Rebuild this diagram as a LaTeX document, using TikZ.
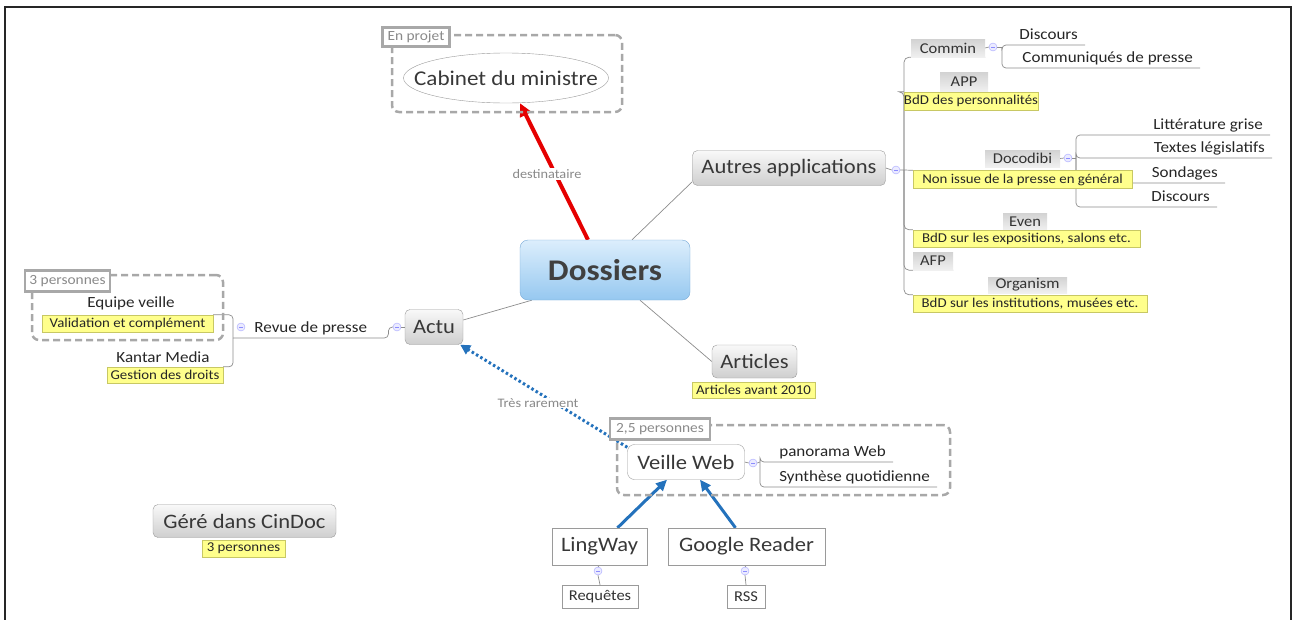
\documentclass[tikz,border=0pt]{standalone}
\usepackage{fontspec}
\setmainfont{Carlito}[FakeStretch=1.1]
\usetikzlibrary{arrows.meta,shapes.geometric}
\pgfdeclarelayer{bg}
\pgfsetlayers{bg,main}
\newcommand\myfs[1]{\fontsize{#1}{#1}\selectfont}
\definecolor{notefill}{HTML}{FFFF8C}
\definecolor{notedraw}{HTML}{C8C864}
\definecolor{linkgray}{HTML}{8C8C8C}
\definecolor{arrowblue}{HTML}{2472BC}
\definecolor{boxline}{HTML}{9A9A9A}
\definecolor{grptext}{HTML}{8A8A8A}
\definecolor{grpline}{HTML}{A8A8A8}
\definecolor{dostop}{HTML}{DCEEFC}
\definecolor{dosbot}{HTML}{96C8F0}
\definecolor{dosline}{HTML}{78AAD7}
\tikzset{
  mainbox/.style={draw=boxline, rounded corners=5pt, top color=gray!5, bottom color=gray!38,
    text=black!78, font=\myfs{20.5}, inner sep=0pt},
  dosbox/.style={draw=dosline, rounded corners=8pt, top color=dostop, bottom color=dosbot,
    text=black!75, font=\myfs{30}\bfseries, inner sep=0pt},
  whitebox/.style={draw=boxline, fill=white, text=black!78, font=\myfs{20.5}, inner sep=0pt},
  smallbox/.style={draw=boxline, fill=white, text=black!80, font=\myfs{15}, inner sep=0pt},
  tag/.style={top color=gray!35, bottom color=gray!12, text=black!80, font=\myfs{15}, inner sep=0pt},
  note/.style={draw=notedraw, fill=notefill, text=black!85, font=\myfs{13.5}, inner sep=0pt},
  leaf/.style={text=black!85, font=\myfs{15.5}, inner xsep=7pt, inner ysep=1.5pt,
    text height=11pt, text depth=3.5pt},
  plain/.style={text=black!85, font=\myfs{15.5}, inner sep=1pt},
  lbl/.style={text=grptext, font=\myfs{13}, fill=white, inner sep=1pt},
  circ/.style={circle, draw=blue!35, fill=blue!8, minimum size=8pt, inner sep=0pt,
    path picture={\draw[blue!45, line width=0.6pt]
      ([xshift=-2pt]path picture bounding box.center) -- ([xshift=2pt]path picture bounding box.center);}},
  grp/.style={draw=grpline, line width=2.5pt, dash pattern=on 7pt off 4pt, rounded corners=7pt,
    inner sep=0pt},
  grplabel/.style={draw=grpline, line width=2.5pt, fill=white, text=grptext, font=\myfs{14}, inner sep=0pt},
  link/.style={draw=linkgray, line width=0.7pt},
  redarrow/.style={draw=red!90!black, line width=4pt, -{Triangle[length=13pt,width=12pt]}},
  bluearrow/.style={draw=arrowblue, line width=3pt, -{Triangle[length=11pt,width=10pt]}},
  bluedot/.style={draw=arrowblue, line width=3pt, dash pattern=on 2.5pt off 2.5pt,
    -{Triangle[length=10pt,width=10pt]}}
}
\begin{document}
\begin{tikzpicture}[x=1pt,y=-1pt]
\useasboundingbox (0,0) rectangle (1294,619);
\draw[line width=2pt, black!85] (5,640) -- (5,7) -- (1291,7) -- (1291,640);

% groups
\node[grp, minimum width=230pt, minimum height=77pt] (g1) at (507,73.5) {};
\node[grp, minimum width=191pt, minimum height=65pt] (g2) at (127.5,307.5) {};
\node[grp, minimum width=333pt, minimum height=70pt] (g3) at (783.5,460) {};
\node[grplabel, minimum width=67pt, minimum height=19pt] (g1l) at (416,37) {En projet};
\node[grplabel, minimum width=85pt, minimum height=21pt] (g2l) at (67.5,281) {3 personnes};
\node[grplabel, minimum width=100pt, minimum height=21pt] (g3l) at (660,429) {2,5 personnes};

% central
\node[dosbox, minimum width=170pt, minimum height=60pt] (dos) at (605,270) {Dossiers};
\node[ellipse, draw=boxline, fill=white, minimum width=205pt, minimum height=50pt, inner sep=0pt,
  text=black!78, font=\myfs{21}] (cab) at (506,78) {\makebox[0pt]{Cabinet du ministre}};
\node[mainbox, minimum width=193pt, minimum height=35pt] (autres) at (789,168) {Autres applications};
\node[mainbox, minimum width=58pt, minimum height=35pt] (actu) at (434,327) {Actu};
\node[mainbox, minimum width=85pt, minimum height=33pt] (articles) at (754.5,361.5) {Articles};
\node[note, minimum width=123pt, minimum height=16pt] (artnote) at (753.5,390) {Articles avant 2010};
\node[mainbox, minimum width=183pt, minimum height=33pt] (cindoc) at (244.5,521) {Géré dans CinDoc};
\node[note, minimum width=83pt, minimum height=17pt] (cinnote) at (243.5,548.5) {3 personnes};

% Autres applications subtree
\node[circ] (ca) at (896,170) {};
\coordinate (bA) at (904,170);
\node[tag, minimum width=74pt, minimum height=18pt] (commin) at (948,48) {Commin};
\node[circ] (cc) at (993,47) {};
\coordinate (bC) at (1002,47);
\node[leaf, anchor=south east] (d1) at (1085,45) {Discours};
\node[leaf, anchor=south east] (cp) at (1200,68) {Communiqués de presse};
\node[tag, minimum width=48pt, minimum height=19pt] (app) at (964,81.5) {APP};
\node[note, minimum width=122pt, minimum height=18pt] (appnote) at (971,101) {BdD des personnalités};
\node[tag, minimum width=75pt, minimum height=17pt] (doco) at (1022.5,158.5) {Docodibi};
\node[circ] (cd) at (1068,158) {};
\coordinate (bD) at (1076,158);
\node[note, minimum width=219pt, minimum height=18pt] (docnote) at (1022.5,179.5) {Non issue de la presse en général};
\node[leaf, anchor=south east] (lg) at (1270,135) {Littérature grise};
\node[leaf, anchor=south east] (tl) at (1272,158) {Textes législatifs};
\node[leaf, anchor=south east] (so) at (1225,183) {Sondages};
\node[leaf, anchor=south east] (d2) at (1217,207) {Discours};
\node[tag, minimum width=44pt, minimum height=17pt] (even) at (1025,221.5) {Even};
\node[note, minimum width=227pt, minimum height=17pt] (evennote) at (1026.5,238.5) {BdD sur les expositions, salons etc.};
\node[tag, minimum width=40pt, minimum height=18pt] (afp) at (933,261) {AFP};
\node[tag, minimum width=79pt, minimum height=16pt] (org) at (1027.5,285) {Organism};
\node[note, minimum width=234pt, minimum height=17pt] (orgnote) at (1030,303.5) {BdD sur les institutions, musées etc.};

% Actu subtree
\node[circ] (cact) at (397,327) {};
\node[leaf, anchor=south west, minimum width=155pt] (rp) at (233,338) {Revue de presse};
\node[circ] (crp) at (241,327) {};
\node[plain] (eq) at (131,303) {Equipe veille};
\node[note, minimum width=171pt, minimum height=17pt] (valnote) at (127.5,323.5) {Validation et complément};
\node[plain] (kant) at (163,357) {Kantar Media};
\node[note, minimum width=116pt, minimum height=16pt] (gesnote) at (165,375) {Gestion des droits};

% Veille Web subtree
\node[whitebox, rounded corners=7pt, minimum width=117pt, minimum height=35pt] (veille) at (686,462) {Veille Web};
\node[circ] (cvw) at (753,463) {};
\coordinate (bV) at (760,462);
\node[leaf, anchor=south east] (pw) at (893,462) {panorama Web};
\node[leaf, anchor=south east] (sq) at (937,487) {Synthèse quotidienne};
\node[whitebox, minimum width=95pt, minimum height=37pt] (ling) at (599.5,546.5) {LingWay};
\node[whitebox, minimum width=157pt, minimum height=37pt] (goog) at (746.5,546.5) {Google Reader};
\node[circ] (cl) at (598,571) {};
\node[circ] (cg) at (745,571) {};
\node[smallbox, minimum width=76pt, minimum height=23pt] (req) at (600,596.5) {Requêtes};
\node[smallbox, minimum width=38pt, minimum height=23pt] (rss) at (746,596.5) {RSS};

\node[lbl] (dest) at (547,174) {destinataire};
\node[lbl] (tres) at (538,403) {Très rarement};

\begin{pgfonlayer}{bg}
% connectors: central
\draw[link] ([xshift=27pt]dos.north) -- ([yshift=4pt]autres.south west);
\draw[link] ([xshift=12pt]dos.south west) -- ([yshift=7pt]actu.east);
\draw[link] ([xshift=35pt]dos.south) -- (articles.west);
\draw[redarrow] ([xshift=-17pt]dos.north) -- ([xshift=14pt]cab.south);
\draw[bluedot] ([yshift=-3pt]veille.north west) -- ([xshift=-3pt]actu.south east);
\draw[bluearrow] ([xshift=18pt]ling.north) -- ([xshift=-19pt]veille.south);
\draw[bluearrow] ([xshift=-11pt]goog.north) -- ([xshift=14pt]veille.south);

% connectors: Autres
\draw[link] (autres.east) -- (ca.west);
\draw[link] (ca.east) -- (bA) -- (docnote.north west);
\draw[link, rounded corners=5pt] (bA) |- (commin.south east);
\draw[link, rounded corners=5pt] (bA) |- (appnote.north west);
\draw[link, rounded corners=5pt] (bA) |- (evennote.north west);
\draw[link, rounded corners=5pt] (bA) |- (afp.south east);
\draw[link, rounded corners=5pt] (bA) |- (orgnote.north west);
\draw[link] (commin.east) -- (cc.west);
\draw[link] (cc.east) -- (bC);
\draw[link, rounded corners=4pt] (bC) |- (d1.south east);
\draw[link, rounded corners=4pt] (bC) |- (cp.south east);
\draw[link] (doco.east) -- (cd.west);
\draw[link] (cd.east) -- (bD);
\draw[link, rounded corners=4pt] (bD) |- (lg.south east);
\draw[link, rounded corners=4pt] (bD) |- (tl.south east);
\draw[link, rounded corners=4pt] (bD) |- (so.south east);
\draw[link, rounded corners=4pt] (bD) |- (d2.south east);

% connectors: Actu
\draw[link] (actu.west) -- (cact.east);
\draw[link, rounded corners=4pt] (cact.west) -| (rp.south east) -- (rp.south west);
\draw[link, rounded corners=4pt] (rp.south west) |- (valnote.north east);
\draw[link, rounded corners=4pt] (rp.south west) |- (gesnote.north east);

% connectors: Veille
\draw[link] (veille.east) -- (cvw.west);
\draw[link] (cvw.east) -- (bV);
\draw[link, rounded corners=4pt] (bV) |- (pw.south east);
\draw[link, rounded corners=4pt] (bV) |- (sq.south east);
\draw[link] (ling.south) -- (cl.north);
\draw[link] (cl.south) -- (req.north);
\draw[link] (goog.south) -- (cg.north);
\draw[link] (cg.south) -- (rss.north);
\end{pgfonlayer}
\end{tikzpicture}
\end{document}
